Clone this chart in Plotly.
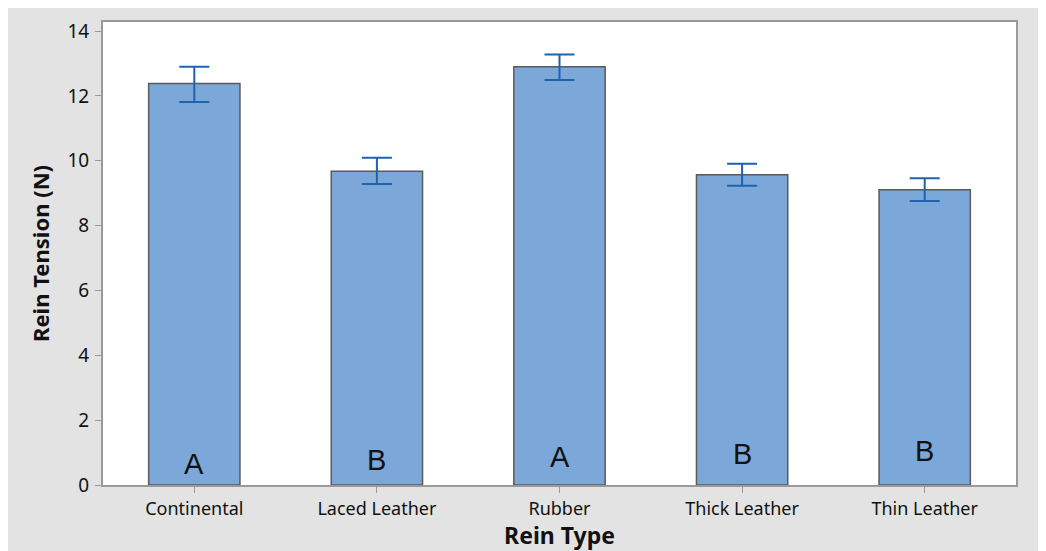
import plotly.graph_objects as go

rein_types = ["Continental", "Laced Leather", "Rubber", "Thick Leather", "Thin Leather"]
mean_tension = [12.38, 9.68, 12.90, 9.57, 9.11]
error_upper = [0.52, 0.41, 0.38, 0.34, 0.35]
error_lower = [0.57, 0.40, 0.41, 0.34, 0.35]
group_letters = ["A", "B", "A", "B", "B"]
letter_y = [0.64, 0.77, 0.86, 0.95, 1.04]

y_ticks = [0, 2, 4, 6, 8, 10, 12, 14]

fig = go.Figure()

fig.add_trace(go.Bar(
    x=rein_types, y=mean_tension,
    width=0.5,
    marker=dict(color="#7ba7d9", line=dict(color="#5a5a5a", width=1.5)),
    error_y=dict(type="data", symmetric=False, array=error_upper, arrayminus=error_lower,
                 color="#1f63b0", thickness=2, width=15),
    showlegend=False,
))

for cat, letter, ly in zip(rein_types, group_letters, letter_y):
    fig.add_annotation(x=cat, y=ly, text=letter, showarrow=False,
                       font=dict(family="Liberation Sans, Arial", size=29, color="#111111"))

# the page body already offsets the figure by 8px, so the size is trimmed to fit
fig.update_layout(
    width=1038, height=543,
    margin=dict(l=95, r=30, t=10, b=66),
    paper_bgcolor="#e3e3e3",
    plot_bgcolor="white",
    font=dict(family="Noto Sans, Open Sans, sans-serif", color="#111111"),
)

fig.update_xaxes(
    range=[-0.5, 4.5],
    showline=True, linecolor="#9a9a9a", linewidth=2, mirror=True,
    ticks="outside", ticklen=6, tickcolor="#9a9a9a",
    tickfont=dict(size=18),
    title=dict(text="<b>Rein Type</b>", font=dict(size=23), standoff=5),
)
fig.update_yaxes(
    range=[0, 14.28],
    tickvals=y_ticks,
    showgrid=False, zeroline=False,
    showline=True, linecolor="#9a9a9a", linewidth=2, mirror=True,
    ticks="outside", ticklen=6, tickcolor="#9a9a9a",
    tickfont=dict(size=19),
    ticklabelstandoff=2,
    title=dict(text="<b>Rein Tension (N)</b>", font=dict(size=22), standoff=12),
)

fig.write_html("out.html")
